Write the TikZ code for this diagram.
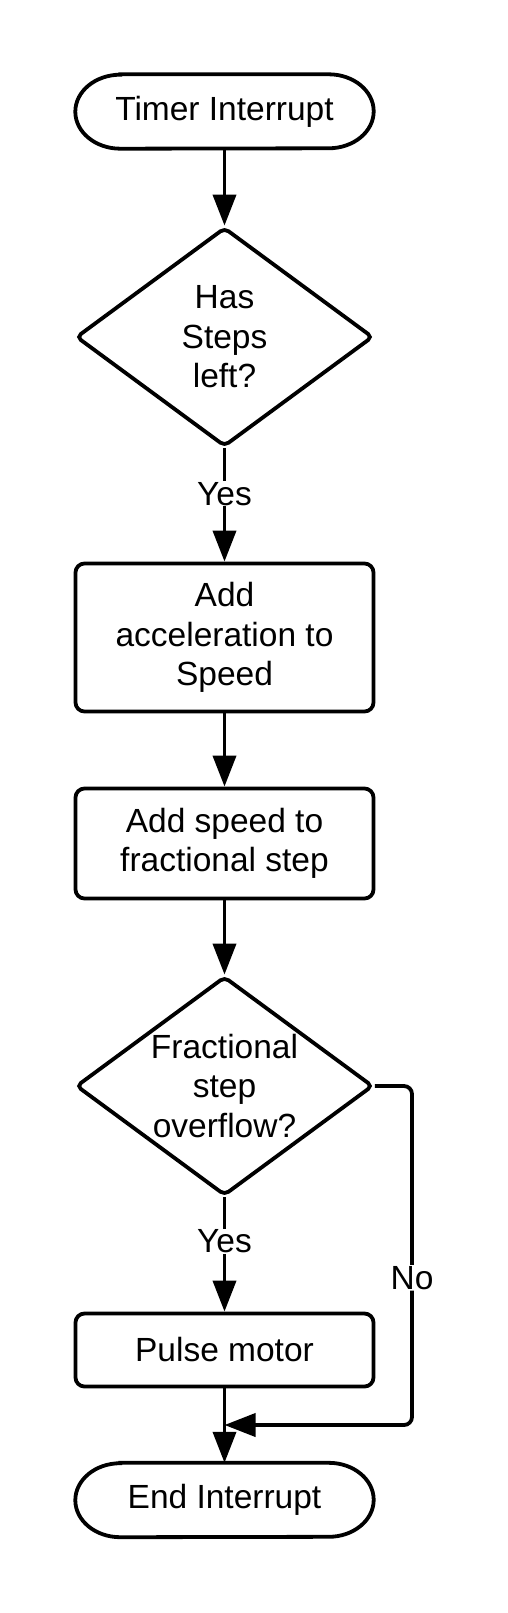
\documentclass[tikz,border=0pt]{standalone}
\usepackage{fontspec}
\setmainfont{Liberation Sans}
\usetikzlibrary{shapes.geometric,arrows.meta}
\begin{document}
\begin{tikzpicture}[x=1pt,y=-1pt,
  lw/.style={line width=3.8pt},
  txt/.style={font=\fontsize{33.5}{39.5}\selectfont,align=center},
  box/.style={draw,lw,txt,rounded corners=9pt,minimum width=298pt,inner sep=0pt},
  dec/.style={draw,lw,diamond,rounded corners=5pt,minimum width=297pt,minimum height=219pt,inner sep=0pt},
  term/.style={txt,minimum width=298pt,minimum height=74pt,inner sep=0pt},
  conn/.style={lw,-{Triangle[length=31pt,width=23pt]}},
  lab/.style={txt,fill=white,inner sep=1pt}]
\useasboundingbox (0,0) rectangle (508,1613);
\newcommand{\termoutline}[1]{%
  \draw[lw] ([xshift=45pt]#1.north west) -- ([xshift=-45pt]#1.north east)
    arc[start angle=90,end angle=-90,x radius=45pt,y radius=37pt]
    -- ([xshift=45pt]#1.south west)
    arc[start angle=270,end angle=90,x radius=45pt,y radius=37pt] -- cycle;}
% nodes
\node[term] (t1) at (224.5,111.5) {Timer Interrupt};
\termoutline{t1}
\node[dec] (d1) at (224.5,337) {};
\node[txt] at (d1.center) {Has\\Steps\\left?};
\node[box,minimum height=148pt] (b1) at (224.5,637.5) {Add\\acceleration to\\Speed};
\node[box,minimum height=110pt] (b2) at (224.5,843.5) {Add speed to\\fractional step};
\node[dec] (d2) at (224.5,1086) {};
\node[txt] at (d2.center) {Fractional\\step\\overflow?};
\node[box,minimum height=73pt] (p) at (224.5,1350) {Pulse motor};
\node[term] (t2) at (224.5,1500) {End Interrupt};
\termoutline{t2}
\coordinate (r1) at (412,1086);
\coordinate (r2) at (412,1425);
\coordinate (j) at (224.5,1425);
% connectors
\draw[conn] (t1.south) -- (d1.north);
\draw[conn] (d1.south) -- node[lab,pos=0.4]{Yes} (b1.north);
\draw[conn] (b1.south) -- (b2.north);
\draw[conn] (b2.south) -- (d2.north);
\draw[conn] (d2.south) -- node[lab,pos=0.385]{Yes} (p.north);
\draw[conn] (p.south) -- (t2.north);
\draw[conn,rounded corners=8pt] (d2.east) -- (r1) -- node[lab,pos=0.566]{No} (r2) -- (j);
\end{tikzpicture}
\end{document}
